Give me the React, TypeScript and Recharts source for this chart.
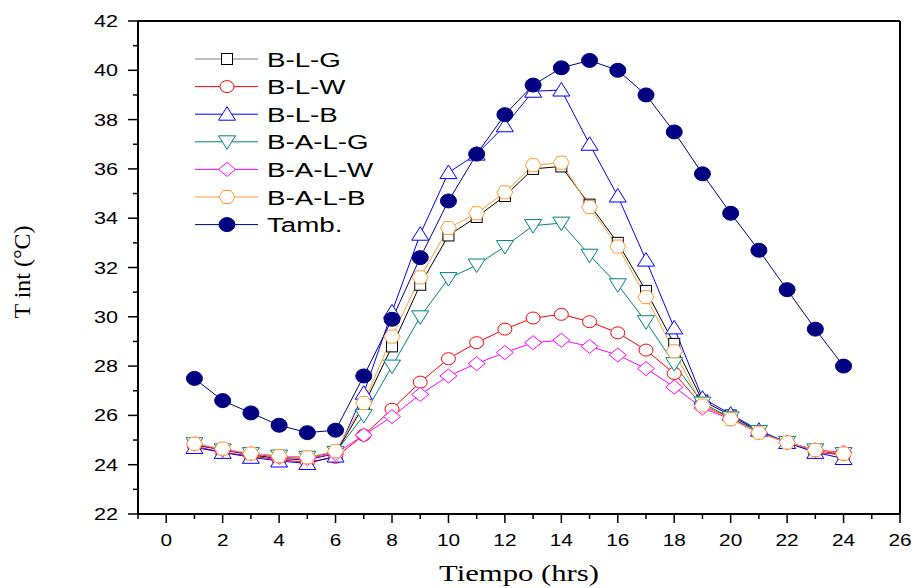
import React from 'react';
import { LineChart, Line, XAxis, YAxis, ReferenceLine, Legend } from 'recharts';

const hours = [1, 2, 3, 4, 5, 6, 7, 8, 9, 10, 11, 12, 13, 14, 15, 16, 17, 18, 19, 20, 21, 22, 23, 24];

const blg = [24.8, 24.6, 24.4, 24.25, 24.2, 24.45, 26.4, 28.8, 31.3, 33.3, 34.05, 34.9, 36.0, 36.1, 34.55, 33.0, 31.05, 28.9, 26.6, 26.0, 25.35, 24.9, 24.6, 24.4];
const blw = [24.75, 24.5, 24.35, 24.2, 24.1, 24.3, 25.2, 26.25, 27.35, 28.3, 28.95, 29.5, 29.95, 30.1, 29.8, 29.35, 28.65, 27.7, 26.4, 25.9, 25.3, 24.9, 24.5, 24.4];
const blb = [24.7, 24.5, 24.3, 24.15, 24.05, 24.35, 26.9, 30.2, 33.35, 35.85, 36.6, 37.75, 39.15, 39.2, 37.0, 34.9, 32.3, 29.55, 26.7, 26.05, 25.4, 24.9, 24.5, 24.25];
const balg = [24.85, 24.6, 24.45, 24.35, 24.3, 24.5, 26.0, 28.0, 30.0, 31.55, 32.1, 32.85, 33.7, 33.8, 32.5, 31.3, 29.8, 28.1, 26.5, 25.9, 25.35, 24.9, 24.6, 24.45];
const balw = [24.85, 24.6, 24.45, 24.3, 24.25, 24.45, 25.2, 25.95, 26.85, 27.6, 28.1, 28.55, 28.95, 29.05, 28.8, 28.45, 27.9, 27.15, 26.3, 25.85, 25.3, 24.9, 24.6, 24.5];
const balb = [24.85, 24.65, 24.45, 24.35, 24.3, 24.55, 26.5, 29.2, 31.6, 33.6, 34.2, 35.05, 36.15, 36.25, 34.45, 32.85, 30.8, 28.6, 26.4, 25.85, 25.3, 24.9, 24.6, 24.45];
const tamb = [27.5, 26.6, 26.1, 25.6, 25.3, 25.4, 27.6, 29.9, 32.4, 34.7, 36.6, 38.2, 39.4, 40.1, 40.4, 40.0, 39.0, 37.5, 35.8, 34.2, 32.7, 31.1, 29.5, 28.0];

const xTicks = [-1, 0, 1, 2, 3, 4, 5, 6, 7, 8, 9, 10, 11, 12, 13, 14, 15, 16, 17, 18, 19, 20, 21, 22, 23, 24, 25, 26];
const yTicks = [22, 23, 24, 25, 26, 27, 28, 29, 30, 31, 32, 33, 34, 35, 36, 37, 38, 39, 40, 41, 42];

type Shape = 'square' | 'circle' | 'up' | 'down' | 'diamond' | 'hexagon' | 'dot';

const series: { key: string; name: string; values: number[]; color: string; shape: Shape; legendLine?: string }[] = [
  { key: 'blg', name: 'B-L-G', values: blg, color: '#000000', shape: 'square', legendLine: '#808080' },
  { key: 'blw', name: 'B-L-W', values: blw, color: '#ff0000', shape: 'circle' },
  { key: 'blb', name: 'B-L-B', values: blb, color: '#0000ff', shape: 'up' },
  { key: 'balg', name: 'B-A-L-G', values: balg, color: '#008080', shape: 'down' },
  { key: 'balw', name: 'B-A-L-W', values: balw, color: '#ff00ff', shape: 'diamond' },
  { key: 'balb', name: 'B-A-L-B', values: balb, color: '#ff9933', shape: 'hexagon' },
  { key: 'tamb', name: 'Tamb.', values: tamb, color: '#000080', shape: 'dot' },
];

const data = hours.map((h, i) => {
  const row: Record<string, number> = { hour: h };
  series.forEach((s) => (row[s.key] = s.values[i]));
  return row;
});

const sans = "'Liberation Sans', Arial, sans-serif";
const serif = "'Liberation Serif', 'Times New Roman', serif";

function Marker({ cx, cy, shape, color }: { cx: number; cy: number; shape: Shape; color: string }) {
  const p = { stroke: color, strokeWidth: 1, fill: '#fff' };
  switch (shape) {
    case 'square':
      return <rect x={cx - 5.5} y={cy - 5.5} width={11} height={11} {...p} />;
    case 'circle':
      return <ellipse cx={cx} cy={cy} rx={7} ry={6} {...p} />;
    case 'up':
      return <path d={`M${cx},${cy - 7.5}L${cx + 8.5},${cy + 6}L${cx - 8.5},${cy + 6}Z`} {...p} />;
    case 'down':
      return <path d={`M${cx},${cy + 7.5}L${cx + 8.5},${cy - 6}L${cx - 8.5},${cy - 6}Z`} {...p} />;
    case 'diamond':
      return <path d={`M${cx},${cy - 7}L${cx + 8.5},${cy}L${cx},${cy + 7}L${cx - 8.5},${cy}Z`} {...p} />;
    case 'hexagon':
      return (
        <path
          d={`M${cx - 8},${cy}L${cx - 4},${cy - 6.5}L${cx + 4},${cy - 6.5}L${cx + 8},${cy}L${cx + 4},${cy + 6.5}L${cx - 4},${cy + 6.5}Z`}
          {...p}
        />
      );
    default:
      return <ellipse cx={cx} cy={cy} rx={8} ry={7} fill={color} stroke={color} />;
  }
}

function XTick(props: any) {
  const { x, y, payload } = props;
  const v = payload.value as number;
  const major = v % 2 === 0;
  return (
    <g>
      <line x1={x} x2={x} y1={y} y2={y + (major ? 9 : 5)} stroke="#000" strokeWidth={1.5} />
      {major && (
        <text transform={`translate(${x},${y + 32}) scale(1.3,1)`} textAnchor="middle" fontSize={16} fontFamily={sans} fill="#000">
          {v}
        </text>
      )}
    </g>
  );
}

function YTick(props: any) {
  const { x, y, payload } = props;
  const v = payload.value as number;
  const major = v % 2 === 0;
  return (
    <g>
      <line x1={x - (major ? 10 : 5)} x2={x} y1={y} y2={y} stroke="#000" strokeWidth={1.5} />
      {major && (
        <text transform={`translate(${x - 20},${y + 6}) scale(1.35,1)`} textAnchor="end" fontSize={16} fontFamily={sans} fill="#000">
          {v}
        </text>
      )}
    </g>
  );
}

function LegendBox() {
  return (
    <svg width={200} height={200} style={{ display: 'block' }}>
      {series.map((s, i) => {
        const cy = 14 + i * 27.6;
        return (
          <g key={s.key}>
            <line x1={5} x2={68} y1={cy} y2={cy} stroke={s.legendLine || s.color} strokeWidth={1} />
            <Marker cx={37} cy={cy} shape={s.shape} color={s.color} />
            <text transform={`translate(77,${cy + 7.5}) scale(1.32,1)`} fontSize={21} fontFamily={sans} fill="#000">
              {s.name}
            </text>
          </g>
        );
      })}
    </svg>
  );
}

export default function App() {
  return (
    <div style={{ position: 'absolute', left: 0, top: 0, background: '#fff' }}>
      <LineChart width={914} height={588} data={data} margin={{ top: 21, right: 14, bottom: 0, left: 0 }}>
        <XAxis
          dataKey="hour"
          type="number"
          domain={[-1, 26]}
          ticks={xTicks}
          interval={0}
          height={74}
          tickSize={0}
          tickMargin={0}
          tickLine={false}
          axisLine={{ stroke: '#000', strokeWidth: 2 }}
          tick={<XTick />}
          label={() => (
            <text transform="translate(519,581) scale(1.28,1)" textAnchor="middle" fontSize={24} fontFamily={serif} fill="#000">
              Tiempo (hrs)
            </text>
          )}
        />
        <YAxis
          type="number"
          domain={[22, 42]}
          ticks={yTicks}
          interval={0}
          width={138}
          tickSize={0}
          tickMargin={0}
          tickLine={false}
          axisLine={{ stroke: '#000', strokeWidth: 2 }}
          tick={<YTick />}
          label={() => (
            <text transform="translate(30,272) rotate(-90)" textAnchor="middle" fontSize={24} fontFamily={serif} fill="#000">
              T int (°C)
            </text>
          )}
        />
        <ReferenceLine y={42} stroke="#000" strokeWidth={2} />
        <ReferenceLine x={26} stroke="#000" strokeWidth={2} />
        <Legend
          layout="vertical"
          align="center"
          verticalAlign="middle"
          content={() => <LegendBox />}
          wrapperStyle={{ left: 190, top: 45, width: 200, height: 200 }}
        />
        {series.map((s) => (
          <Line
            key={s.key}
            dataKey={s.key}
            name={s.name}
            type="linear"
            stroke={s.color}
            strokeWidth={1}
            isAnimationActive={false}
            dot={(d: any) => <Marker key={`${s.key}-${d.index}`} cx={d.cx} cy={d.cy} shape={s.shape} color={s.color} />}
            activeDot={false}
          />
        ))}
      </LineChart>
    </div>
  );
}
